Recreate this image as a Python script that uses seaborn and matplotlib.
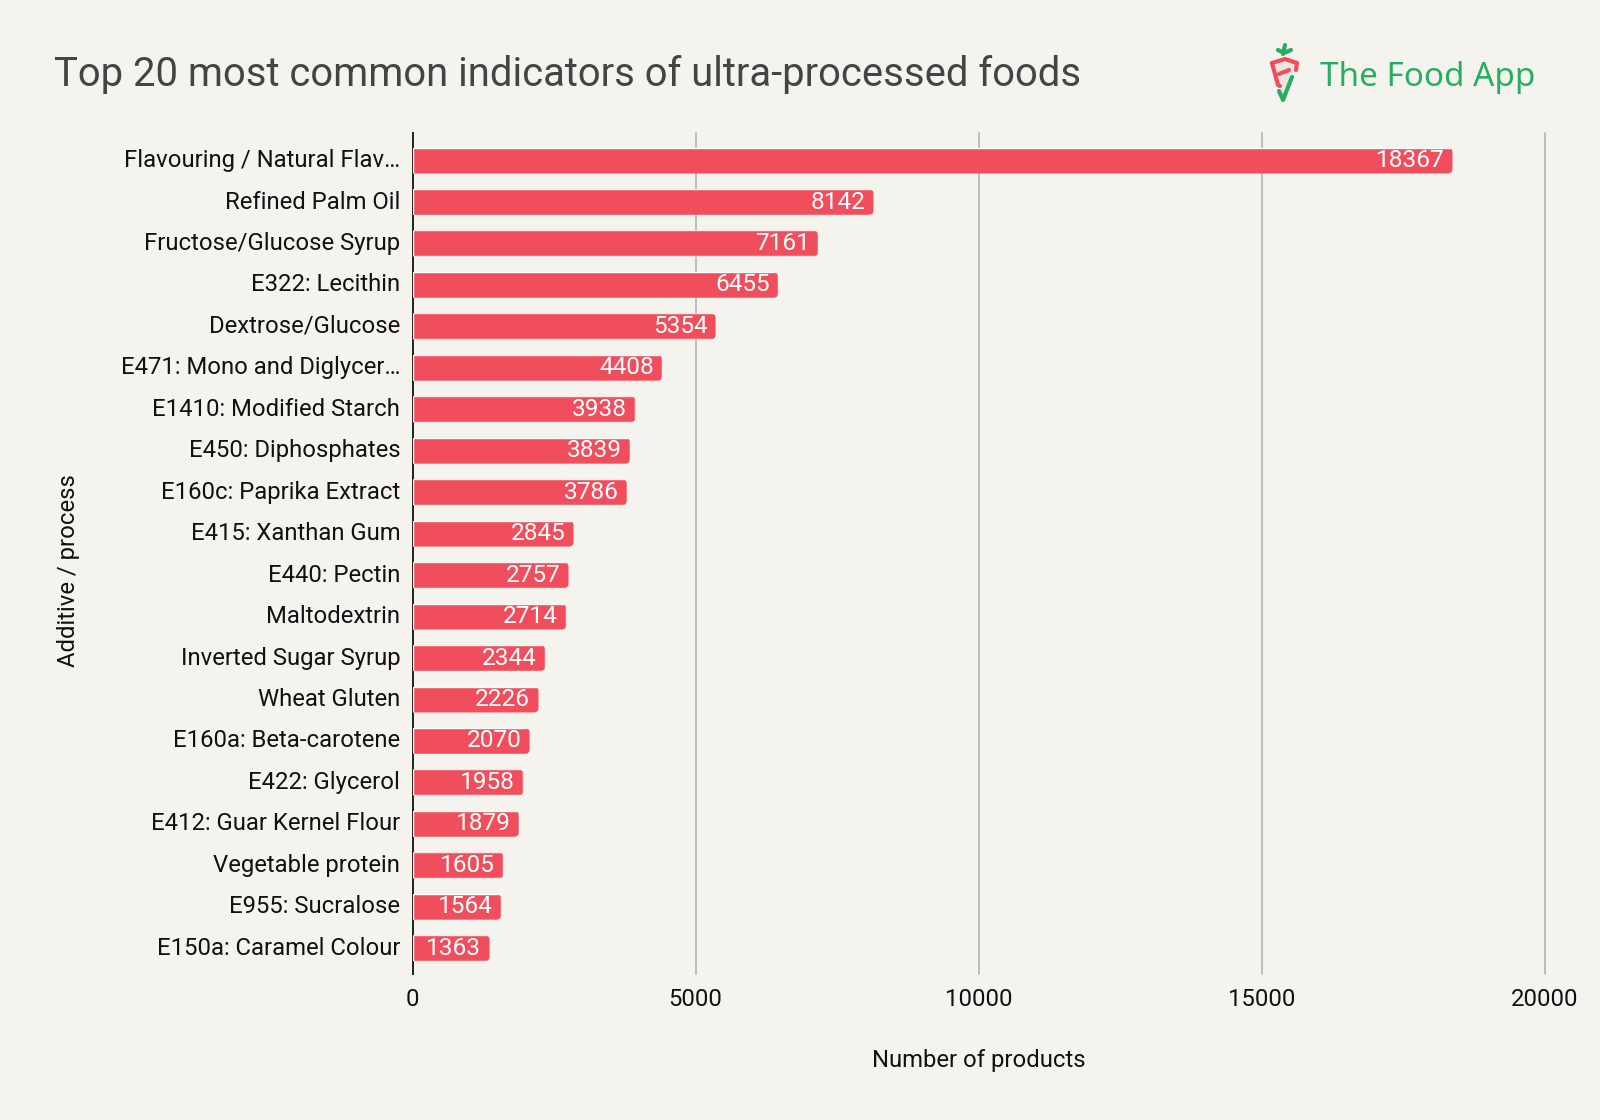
# top 20 indicators of ultra-processed foods
import pandas as pd
import seaborn as sns
import matplotlib.pyplot as plt
from matplotlib.patches import FancyBboxPatch, Polygon
from matplotlib.transforms import ScaledTranslation

additives = ['Flavouring / Natural Flav…', 'Refined Palm Oil', 'Fructose/Glucose Syrup', 'E322: Lecithin',
             'Dextrose/Glucose', 'E471: Mono and Diglycer…', 'E1410: Modified Starch', 'E450: Diphosphates',
             'E160c: Paprika Extract', 'E415: Xanthan Gum', 'E440: Pectin', 'Maltodextrin',
             'Inverted Sugar Syrup', 'Wheat Gluten', 'E160a: Beta-carotene', 'E422: Glycerol',
             'E412: Guar Kernel Flour', 'Vegetable protein', 'E955: Sucralose', 'E150a: Caramel Colour']
products = [18367, 8142, 7161, 6455, 5354, 4408, 3938, 3839, 3786, 2845,
            2757, 2714, 2344, 2226, 2070, 1958, 1879, 1605, 1564, 1363]
x_ticks = [0, 5000, 10000, 15000, 20000]

BG = '#f5f3ee'
RED = '#f04e5c'
GREEN = '#27ae60'
W, H = 1600, 1120

sns.set_theme(style='white')
plt.rcParams['font.family'] = ['Roboto', 'DejaVu Sans']

df = pd.DataFrame({'additive': additives, 'products': products})

fig = plt.figure(figsize=(W / 100, H / 100), dpi=100, facecolor=BG)
# axes box measured in pixels: left 412.5, right 1545, top 133, bottom 974
ax = fig.add_axes([412.5 / W, 1 - 974 / H, (1545 - 412.5) / W, (974 - 133) / H], facecolor=BG)

sns.barplot(data=df, x='products', y='additive', color=RED, saturation=1, width=0.627, orient='h', ax=ax, zorder=3)
ax.set_xlim(0, 20000)
ax.set_ylim(19.62, -0.665)

# round the right hand corners of the bars, the left side is cut by a box that starts left of 0
for bar in ax.containers[0]:
    rounded = FancyBboxPatch((-200, bar.get_y()), bar.get_width() + 200, bar.get_height(),
                             boxstyle='round,pad=0,rounding_size=90', mutation_aspect=0.00136,
                             transform=ax.transData)
    bar.set_clip_path(rounded)

labels = ax.bar_label(ax.containers[0], padding=-6, color='white', fontsize=17.6, zorder=4)
for t in labels:
    t.set_ha('right')

ax.set_xticks(x_ticks)
ax.grid(axis='x', color='#b8b8b4', linewidth=1.3, zorder=1)
ax.grid(axis='y', visible=False)
for g in ax.get_xgridlines():
    g.set_clip_on(False)
for side in ['top', 'right', 'bottom']:
    ax.spines[side].set_visible(False)
ax.spines['left'].set_color('#222222')
ax.spines['left'].set_linewidth(1.4)
ax.spines['left'].set_zorder(2)
ax.tick_params(axis='y', length=0, pad=8.8, labelsize=17.2, labelcolor='#111111')
ax.tick_params(axis='x', length=0, pad=10, labelsize=17.2, labelcolor='#111111')

# the category labels sit a little above the bar centres
lift = ScaledTranslation(0, 2.5 / 100, fig.dpi_scale_trans)
for t in ax.get_yticklabels():
    t.set_transform(t.get_transform() + lift)

ax.set_xlabel('Number of products', fontsize=17.2, color='#111111')
ax.set_ylabel('Additive / process', fontsize=17.2, color='#111111')
ax.xaxis.set_label_coords(979 / W, 1 - 1049 / H, transform=fig.transFigure)
ax.yaxis.set_label_coords(80 / W, 1 - 571 / H, transform=fig.transFigure)

fig.text(54 / W, 1 - 75 / H, 'Top 20 most common indicators of ultra-processed foods',
         fontsize=28.8, color='#444444', va='center', ha='left')

# logo, drawn on an overlay with pixel coordinates
logo = fig.add_axes([0, 0, 1, 1], facecolor='none')
logo.set_xlim(0, W)
logo.set_ylim(H, 0)
logo.axis('off')
logo.add_patch(Polygon([(1272, 62), (1297, 62), (1283, 100)], closed=True, color='#e9e5df', lw=0))
line_kw = dict(solid_capstyle='round', solid_joinstyle='round', linewidth=3)
logo.plot([1272, 1285, 1297, 1296], [63, 59, 63, 70], color=RED, **line_kw)
logo.plot([1272, 1278, 1280], [63, 85, 86], color=RED, **line_kw)
logo.plot([1279, 1289], [74, 70], color=RED, **line_kw)
logo.plot([1279, 1283, 1292], [91, 100, 77], color=GREEN, **line_kw)
logo.plot([1285, 1283], [45, 54], color=GREEN, **line_kw)
logo.plot([1278, 1284, 1291], [50, 53, 50], color=GREEN, **line_kw)
logo.text(1320, 86, 'The Food App', fontsize=23.9, color=GREEN, family='Noto Sans', va='baseline', ha='left')

fig.savefig('out.png', dpi=100, facecolor=BG)
